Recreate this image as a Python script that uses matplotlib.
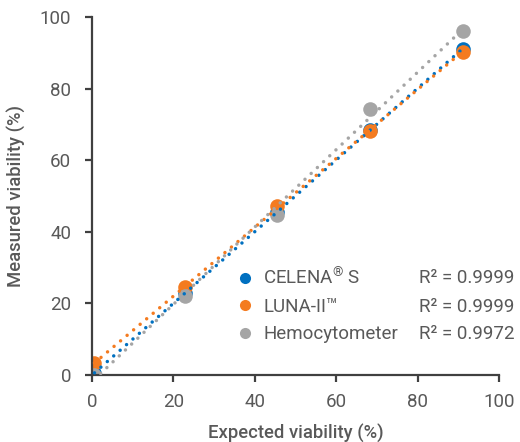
import numpy as np
import matplotlib
matplotlib.use("Agg")
from matplotlib import pyplot as plt
from matplotlib.lines import Line2D

plt.rcParams['font.family'] = ['Roboto', 'DejaVu Sans']
plt.rcParams['mathtext.fontset'] = 'custom'
plt.rcParams['mathtext.rm'] = 'Roboto'
plt.rcParams['mathtext.it'] = 'Roboto'

# expected viability (%) for the five samples
expected = [0.6, 22.8, 45.5, 68.3, 91.0]

# measured viability (%) per counting method
celena = [0.6, 22.8, 45.6, 68.4, 91.1]
luna = [3.3, 24.5, 47.2, 68.2, 90.3]
hemo = [0.0, 22.1, 44.7, 74.3, 96.2]

names = [r"CELENA$^{\mathrm{®}}$ S", "LUNA-II™", "Hemocytometer"]
r2_labels = ["R² = 0.9999", "R² = 0.9999", "R² = 0.9972"]
colors = ["#0070C0", "#F47B20", "#A5A5A5"]

txt_col = "#595959"

fig = plt.figure(figsize=(5.2, 4.42), dpi=100)
ax = fig.add_axes([0.177, 0.1516, 0.783, 0.81])

series = [celena, luna, hemo]
x = np.array(expected)

for ys, c in zip(series, colors):
    ax.scatter(x, ys, s=110, color=c, zorder=2, linewidths=0)

# linear trendlines
for ys, c in zip(series, colors):
    k, b = np.polyfit(x, ys, 1)
    xx = np.array([x.min(), x.max()])
    ax.plot(xx, k * xx + b, color=c, linewidth=2.5,
            linestyle=(0, (0.01, 2.45)), dash_capstyle='round', zorder=3)

ax.set_xlim(0, 100)
ax.set_ylim(0, 100)
ax.set_xticks(range(0, 101, 20))
ax.set_yticks(range(0, 101, 20))

for s in ["top", "right"]:
    ax.spines[s].set_visible(False)
for s in ["left", "bottom"]:
    ax.spines[s].set_color("#404040")
    ax.spines[s].set_linewidth(1.6)
ax.tick_params(axis="both", direction="out", length=5, width=1.6,
               color="#404040", labelsize=13.5, labelcolor=txt_col)
ax.tick_params(axis="y", pad=10)
ax.tick_params(axis="x", pad=8)

ax.set_xlabel("Expected viability (%)", fontsize=13.3, color=txt_col,
              fontweight="medium", labelpad=9)
ax.set_ylabel("Measured viability (%)", fontsize=13.3, color=txt_col,
              fontweight="medium", labelpad=10)

# legend
handles = [Line2D([], [], marker="o", linestyle="none", markersize=8,
                  markerfacecolor=c, markeredgewidth=0) for c in colors]
leg = ax.legend(handles, names, loc="center left", bbox_to_anchor=(0.335, 0.195),
                frameon=False, fontsize=13.5, labelcolor=txt_col,
                handletextpad=0.45, labelspacing=0.5, borderaxespad=0,
                handlelength=1.0)

# R² values lined up with the legend rows
fig.canvas.draw()
inv = ax.transAxes.inverted()
for lt, t in zip(leg.get_texts(), r2_labels):
    bb = lt.get_window_extent()
    yy = inv.transform((0, (bb.y0 + bb.y1) / 2))[1]
    ax.text(0.803, yy, t, transform=ax.transAxes, fontsize=13.5,
            color=txt_col, va="center", ha="left")

fig.savefig("out.png", dpi=100)
